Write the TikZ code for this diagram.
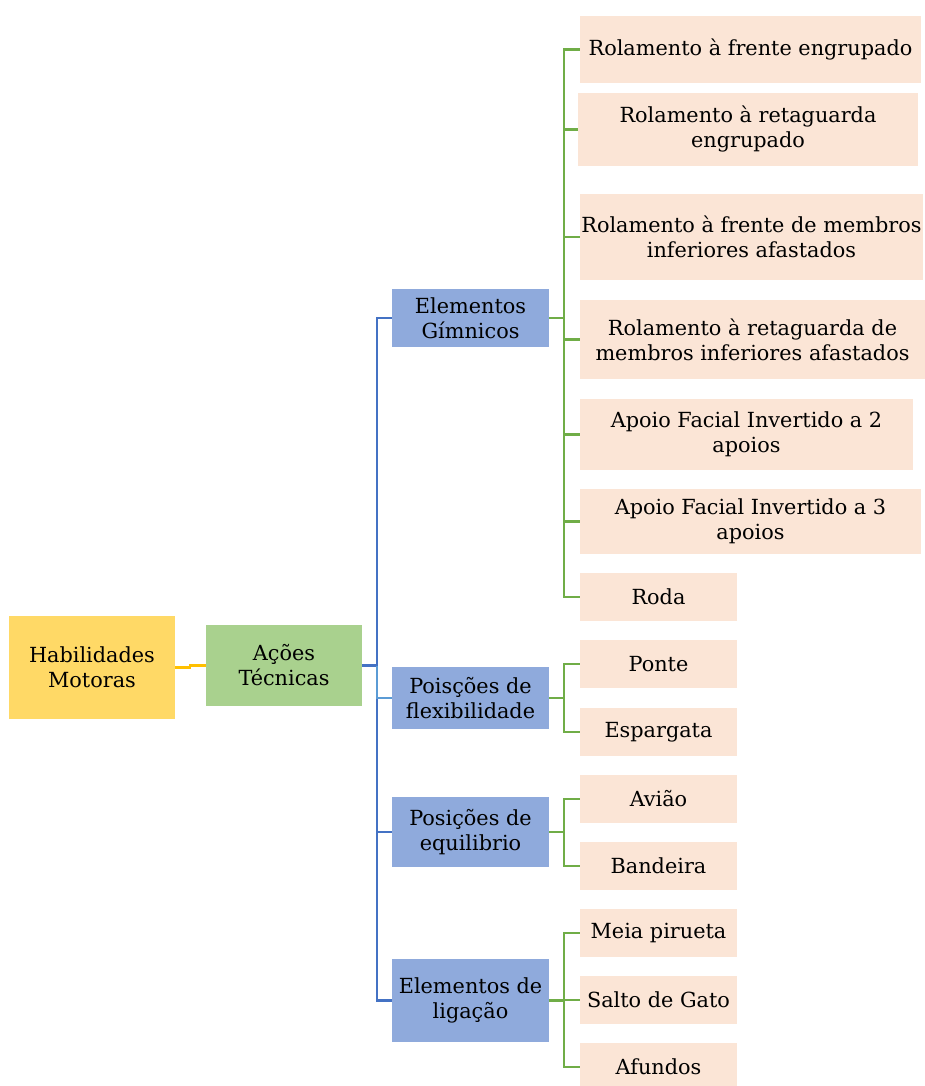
\documentclass[tikz,border=0pt]{standalone}
\usepackage{fontspec}
\setmainfont{DejaVu Serif}
\usepackage{tikz}
\usetikzlibrary{positioning}
\definecolor{boxyellow}{HTML}{FFD966}
\definecolor{boxgreen}{HTML}{A9D18E}
\definecolor{boxblue}{HTML}{8FAADC}
\definecolor{boxpeach}{HTML}{FBE5D6}
\definecolor{lineblue}{HTML}{4472C4}
\definecolor{linelight}{HTML}{5B9BD5}
\definecolor{linegreen}{HTML}{70AD47}
\definecolor{lineyellow}{HTML}{FFC000}
\tikzset{%
	every box/.style={
		rectangle,
		inner sep=0pt,
		align=center,
		text=black
	},
	box root/.style={fill=boxyellow},
	box main/.style={fill=boxgreen},
	box mid/.style={fill=boxblue},
	box leaf/.style={fill=boxpeach},
	blue line/.style={draw=lineblue, line width=2.6pt},
	green line/.style={draw=linegreen, line width=2.8pt},
	yellow line/.style={draw=lineyellow, line width=2.6pt},
}

\begin{document}
\begin{tikzpicture}[x=1pt, y=-1pt, font=\fontsize{20.8}{25}\selectfont]
	
	\useasboundingbox (0,0) rectangle (925,1086);
	
	\node [every box, box root, minimum width=166, minimum height=103] (hab) at (92,667.5) {Habilidades\\Motoras};
	\node [every box, box main, minimum width=156, minimum height=81] (acoes) at (284,665.5) {Ações\\Técnicas};
	
	\foreach \m/\y/\h/\t in {gim/318/58/{Elementos\\Gímnicos}, flex/698/62/{Poisções de\\flexibilidade}, equil/832/70/{Posições de\\equilibrio}, lig/1000.5/83/{Elementos de\\ligação}}
	\node [every box, box mid, minimum width=157, minimum height=\h] (\m) at (470.5,\y) {\t};
	
	\foreach \x/\y/\w/\h/\t [count=\i] in {
		750.5/49.5/341/67/{Rolamento à frente engrupado},
		748/129.5/340/73/{Rolamento à retaguarda\\engrupado},
		751.5/237/343/86/{Rolamento à frente de membros\\inferiores afastados},
		752.5/339.5/345/79/{Rolamento à retaguarda de\\membros inferiores afastados},
		746.5/434.5/333/71/{Apoio Facial Invertido a 2\\apoios},
		750.5/521.5/341/65/{Apoio Facial Invertido a 3\\apoios},
		658.5/597/157/48/{Roda}}
	\node [every box, box leaf, minimum width=\w, minimum height=\h] (gim-\i) at (\x,\y) {\t};
	
	\foreach \m/\y/\t [count=\i] in {flex/664/Ponte, flex/732/Espargata, equil/799/Avião, equil/866/Bandeira, lig/933/Meia pirueta, lig/1000/Salto de Gato, lig/1067/Afundos}
	\node [every box, box leaf, minimum width=157, minimum height=48] (leaf-\i) at (658.5,\y) {\t};
	
	\coordinate (ystep) at (190,0);
	\coordinate (btrunk) at (377,0);
	\coordinate (gtrunk) at (564,0);
	
	\draw [yellow line] (hab.east) -- (hab.east -| ystep) |- (acoes.west);
	
	\foreach \m in {gim, equil, lig}
	\draw [blue line] (acoes.east) -- (acoes.east -| btrunk) |- (\m.west);
	\draw [draw=linelight, line width=2.6pt] (acoes.east -| btrunk) |- (flex.west);
	
	\foreach \i in {1,...,7}
	\draw [green line] (gim.east) -- (gim.east -| gtrunk) |- (gim-\i.west);
	
	\foreach \m/\i in {flex/1, flex/2, equil/3, equil/4, lig/5, lig/6, lig/7}
	\draw [green line] (\m.east) -- (\m.east -| gtrunk) |- (leaf-\i.west);
	
\end{tikzpicture}
\end{document}
